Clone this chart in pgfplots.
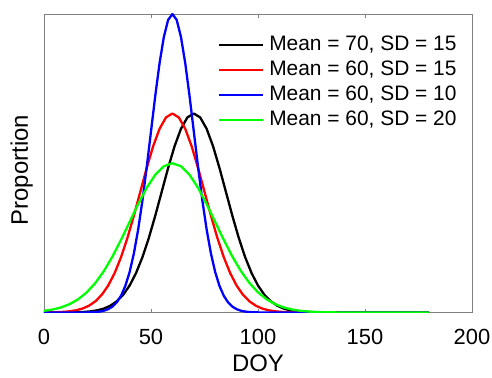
\documentclass[border=0pt]{standalone}
\usepackage{fontspec}
\setmainfont{Liberation Sans}
\usepackage{pgfplots}
\pgfplotsset{compat=1.18}
\definecolor{mblue}{RGB}{0,0,255}
\definecolor{mred}{RGB}{255,0,0}
\definecolor{mgreen}{RGB}{0,255,0}
\begin{document}
\begin{tikzpicture}
\begin{axis}[
  at={(0,0)}, anchor=south west,
  scale only axis, width=428bp, height=298.5bp,
  xmin=0, xmax=200, ymin=0, ymax=1.0,
  xtick={0,50,100,150,200}, ytick=\empty,
  tick align=inside, major tick length=4bp,
  axis line style={black!50, line width=0.6bp},
  every tick/.style={black!50, line width=0.6bp},
  /pgf/number format/assume math mode=true,
  xticklabel style={font=\fontsize{22}{26}\selectfont, anchor=base, yshift=-32bp},
  xlabel={DOY}, ylabel={Proportion},
  label style={font=\fontsize{24}{28}\selectfont, inner sep=0pt},
  xlabel style={at={(axis description cs:0.5,-0.196)}, anchor=base},
  ylabel style={at={(axis description cs:-0.0374,0.477)}, anchor=base},
  legend cell align=left,
  legend style={draw=none, fill=none, inner sep=0pt, outer sep=0pt,
    at={(0.4065,0.928)}, anchor=north west,
    font=\fontsize{21}{25}\selectfont,
    nodes={inner sep=0pt, text height=15bp, text depth=4bp},
    row sep=6bp,
    /tikz/every odd column/.append style={column sep=5bp}},
  legend image code/.code={\draw[#1] (0bp,0bp) -- (44bp,0bp);},
  every axis plot/.append style={line width=2.3bp, line join=round},
]
\addplot[black] coordinates {
(0,0.0000124) (4,0.0000417) (10,0.000223) (13,0.000488) (16,0.001023) (19,0.002059) (22,0.003984) (25,0.007406) (28,0.013227) (31,0.022698) (34,0.037423) (37,0.059281) (40,0.090223) (43,0.131933) (46,0.185358) (49,0.250207) (52,0.324501) (55,0.404354) (58,0.484099) (61,0.556847) (64,0.615411) (67,0.653466) (70,0.666667) (73,0.653466) (76,0.615411) (79,0.556847) (82,0.484099) (85,0.404354) (88,0.324501) (91,0.250207) (94,0.185358) (97,0.131933) (100,0.090223) (103,0.059281) (106,0.037423) (109,0.022698) (112,0.013227) (115,0.007406) (118,0.003984) (121,0.002059) (124,0.001023) (127,0.000488) (130,0.000223) (136,0.0000417) (145,0.0000025) (160,0) (180,0)
};
\addlegendentry{Mean = 70, SD = 15}
\addplot[mred] coordinates {
(0,0.000223) (3,0.000488) (6,0.001023) (9,0.002059) (12,0.003984) (15,0.007406) (18,0.013227) (21,0.022698) (24,0.037423) (27,0.059281) (30,0.090223) (33,0.131933) (36,0.185358) (39,0.250207) (42,0.324501) (45,0.404354) (48,0.484099) (51,0.556847) (54,0.615411) (57,0.653466) (60,0.666667) (63,0.653466) (66,0.615411) (69,0.556847) (72,0.484099) (75,0.404354) (78,0.324501) (81,0.250207) (84,0.185358) (87,0.131933) (90,0.090223) (93,0.059281) (96,0.037423) (99,0.022698) (102,0.013227) (105,0.007406) (108,0.003984) (111,0.002059) (114,0.001023) (117,0.000488) (120,0.000223) (126,0.0000417) (135,0.0000025) (150,0) (180,0)
};
\addlegendentry{Mean = 60, SD = 15}
\addplot[mblue] coordinates {
(0,0) (10,0.0000037) (16,0.0000625) (20,0.000335) (22,0.000732) (24,0.001534) (26,0.003089) (28,0.005976) (30,0.011109) (32,0.019841) (34,0.034047) (36,0.056135) (38,0.088922) (40,0.135335) (42,0.197899) (44,0.278037) (46,0.375311) (48,0.486752) (50,0.606531) (52,0.726149) (54,0.835270) (56,0.923116) (58,0.980199) (60,1) (62,0.980199) (64,0.923116) (66,0.835270) (68,0.726149) (70,0.606531) (72,0.486752) (74,0.375311) (76,0.278037) (78,0.197899) (80,0.135335) (82,0.088922) (84,0.056135) (86,0.034047) (88,0.019841) (90,0.011109) (92,0.005976) (94,0.003089) (96,0.001534) (98,0.000732) (100,0.000335) (104,0.0000625) (110,0.0000037) (120,0) (180,0)
};
\addlegendentry{Mean = 60, SD = 10}
\addplot[mgreen] coordinates {
(0,0.005555) (4,0.009921) (8,0.017024) (12,0.028068) (16,0.044461) (20,0.067668) (24,0.098950) (28,0.139019) (32,0.187656) (36,0.243376) (40,0.303266) (44,0.363075) (48,0.417635) (52,0.461558) (56,0.490100) (60,0.5) (64,0.490100) (68,0.461558) (72,0.417635) (76,0.363075) (80,0.303266) (84,0.243376) (88,0.187656) (92,0.139019) (96,0.098950) (100,0.067668) (104,0.044461) (108,0.028068) (112,0.017024) (116,0.009921) (120,0.005555) (124,0.002988) (128,0.001545) (132,0.000767) (136,0.000366) (140,0.000168) (148,0.0000313) (160,0.0000019) (180,0)
};
\addlegendentry{Mean = 60, SD = 20}
\end{axis}
\pgfresetboundingbox
\path[use as bounding box] (-44bp,-65.5bp) rectangle (448bp,312.5bp);
\end{tikzpicture}
\end{document}
